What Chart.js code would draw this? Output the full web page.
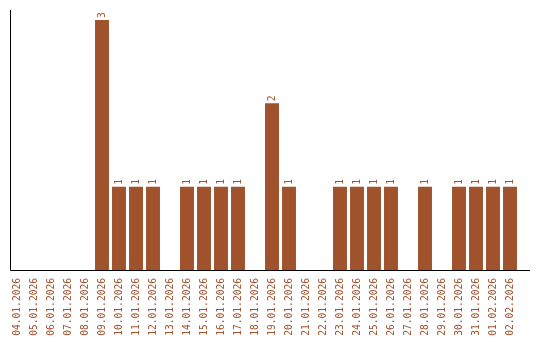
<!DOCTYPE html>
<html>
<head>
<meta charset="utf-8">
<script src="https://cdn.jsdelivr.net/npm/chart.js@4"></script>
<style>
  html, body { margin: 0; padding: 0; background: #fff; }
  canvas { display: block; }
</style>
</head>
<body>
<canvas id="chart" width="540" height="340"></canvas>
<script>
const dates = ['04.01.2026', '05.01.2026', '06.01.2026', '07.01.2026', '08.01.2026',
    '09.01.2026', '10.01.2026', '11.01.2026', '12.01.2026', '13.01.2026',
    '14.01.2026', '15.01.2026', '16.01.2026', '17.01.2026', '18.01.2026',
    '19.01.2026', '20.01.2026', '21.01.2026', '22.01.2026', '23.01.2026',
    '24.01.2026', '25.01.2026', '26.01.2026', '27.01.2026', '28.01.2026',
    '29.01.2026', '30.01.2026', '31.01.2026', '01.02.2026', '02.02.2026'];
const counts = [0, 0, 0, 0, 0, 3, 1, 1, 1, 0, 1, 1, 1, 1, 0, 2, 1, 0, 0, 1, 1, 1, 1, 0, 1, 0, 1, 1, 1, 1];

const brown = '#A0522D';
const monoFont = "'DejaVu Sans Mono', monospace";

// axis lines + value labels
const extras = {
    id: 'extras',
    afterDatasetsDraw(chart) {
        const ctx = chart.ctx;
        const area = chart.chartArea;
        ctx.save();
        ctx.strokeStyle = '#000';
        ctx.lineWidth = 1;
        ctx.beginPath();
        ctx.moveTo(10.5, area.top);
        ctx.lineTo(10.5, area.bottom + 0.5);
        ctx.lineTo(530, area.bottom + 0.5);
        ctx.stroke();

        ctx.fillStyle = brown;
        ctx.font = '9.6px ' + monoFont;
        ctx.textAlign = 'left';
        ctx.textBaseline = 'middle';
        chart.getDatasetMeta(0).data.forEach((bar, i) => {
            if (!counts[i]) return;
            ctx.save();
            ctx.translate(bar.x, bar.y - 2);
            ctx.rotate(-Math.PI / 2);
            ctx.fillText(String(counts[i]), 0, 0);
            ctx.restore();
        });
        ctx.restore();
    }
};

new Chart(document.getElementById('chart'), {
    type: 'bar',
    data: {
        labels: dates,
        datasets: [{
            data: counts,
            backgroundColor: brown,
            borderWidth: 0,
            barPercentage: 0.82,
            categoryPercentage: 1
        }]
    },
    options: {
        responsive: false,
        animation: false,
        devicePixelRatio: 1,
        layout: { padding: { left: 8.5, right: 21.5, top: 10, bottom: 0 } },
        plugins: { legend: { display: false }, tooltip: { enabled: false } },
        scales: {
            x: {
                grid: { display: false },
                border: { display: false },
                ticks: {
                    color: brown,
                    font: { family: monoFont, size: 9.6 },
                    minRotation: 90,
                    maxRotation: 90,
                    autoSkip: false,
                    padding: 0
                },
                afterFit(scale) { scale.height = 70; }
            },
            y: {
                display: false,
                min: 0,
                max: 3.12
            }
        }
    },
    plugins: [extras]
});
</script>
</body>
</html>
